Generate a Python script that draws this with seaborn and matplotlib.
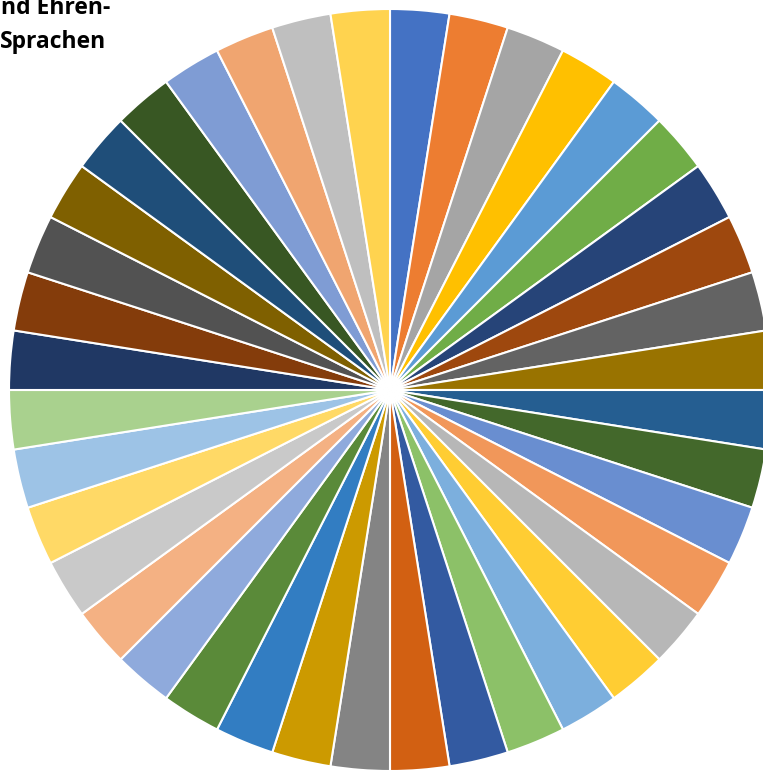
import matplotlib
matplotlib.use('Agg')
import matplotlib.pyplot as plt
import seaborn as sns

# 40 equal slices, read clockwise from 12 o'clock
shares = [2.5, 2.5, 2.5, 2.5, 2.5, 2.5, 2.5, 2.5, 2.5, 2.5,
          2.5, 2.5, 2.5, 2.5, 2.5, 2.5, 2.5, 2.5, 2.5, 2.5,
          2.5, 2.5, 2.5, 2.5, 2.5, 2.5, 2.5, 2.5, 2.5, 2.5,
          2.5, 2.5, 2.5, 2.5, 2.5, 2.5, 2.5, 2.5, 2.5, 2.5]

slice_colors = ['#4472C4', '#ED7D31', '#A5A5A5', '#FFC000', '#5B9BD5', '#70AD47',
                '#264478', '#9E480E', '#636363', '#997300', '#255E91', '#43682B',
                '#698ED0', '#F1975A', '#B7B7B7', '#FFCD33', '#7CAFDD', '#8CC168',
                '#335AA1', '#D26012', '#848484', '#CC9A00', '#327DC2', '#5A8A39',
                '#8FAADC', '#F4B183', '#C9C9C9', '#FFD966', '#9DC3E6', '#A9D18E',
                '#203864', '#843C0B', '#525252', '#7F6000', '#1F4E79', '#385723',
                '#7F9CD4', '#F0A570', '#BFBFBF', '#FFD34F']

title_lines = ['nd Ehren-', 'Sprachen']

sns.set_theme(style='white')
plt.rcParams['font.family'] = ['Open Sans', 'DejaVu Sans']

W, H = 763, 771
fig = plt.figure(figsize=(W / 100, H / 100), dpi=100)
ax = fig.add_axes([0, 0, 1, 1])

palette = sns.color_palette(slice_colors)
ax.pie(shares, colors=palette, startangle=90, counterclock=False,
       center=(390, H - 390), radius=381,
       wedgeprops=dict(edgecolor='white', linewidth=1.5))

ax.set_xlim(0, W)
ax.set_ylim(0, H)
ax.set_aspect('auto')
ax.axis('off')

# title is cut off by the left/top edge in the original
fig.text(110 / W, 1 - 14 / H, title_lines[0], ha='right', va='baseline',
         fontsize=16.5, fontweight='bold', color='black')
fig.text(106 / W, 1 - 48 / H, title_lines[1], ha='right', va='baseline',
         fontsize=16.5, fontweight='bold', color='black')

fig.savefig('out.png', dpi=100)
